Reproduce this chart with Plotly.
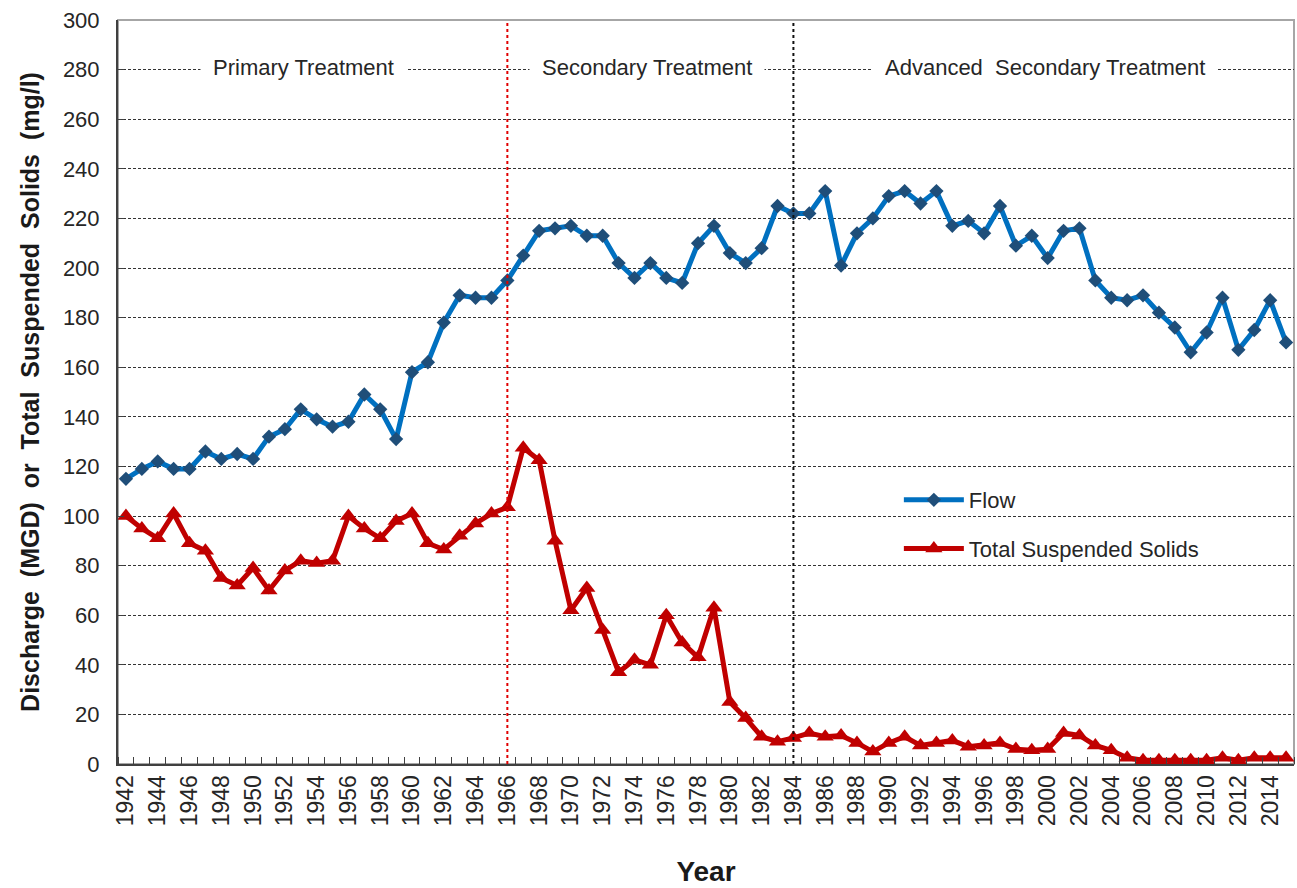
import plotly.graph_objects as go

# Annual values, 1942-2015
years = list(range(1942, 2016))

flow_mgd = [
    115, 119, 122, 119, 119, 126, 123, 125, 123, 132,   # 1942-1951
    135, 143, 139, 136, 138, 149, 143, 131, 158, 162,   # 1952-1961
    178, 189, 188, 188, 195, 205, 215, 216, 217, 213,   # 1962-1971
    213, 202, 196, 202, 196, 194, 210, 217, 206, 202,   # 1972-1981
    208, 225, 222, 222, 231, 201, 214, 220, 229, 231,   # 1982-1991
    226, 231, 217, 219, 214, 225, 209, 213, 204, 215,   # 1992-2001
    216, 195, 188, 187, 189, 182, 176, 166, 174, 188,   # 2002-2011
    167, 175, 187, 170,                                 # 2012-2015
]

tss_mgl = [
    100, 95, 91, 101, 89, 86, 75, 72, 79, 70,           # 1942-1951
    78, 82, 81, 82, 100, 95, 91, 98, 101, 89,           # 1952-1961
    86.5, 92, 97, 101, 103.5, 127.5, 122.5, 90, 62, 71, # 1962-1971
    54, 37, 42, 40, 60, 49, 43, 63, 25, 18.5,           # 1972-1981
    11, 9, 10.5, 12.5, 11, 11.5, 8.5, 5, 8.5, 11,       # 1982-1991
    7.5, 8.5, 9.5, 7, 7.5, 8.5, 6, 5.5, 6, 12.5,        # 1992-2001
    11.5, 7.5, 5.5, 2.5, 1.5, 1.5, 1.5, 1.5, 1.5, 2.5,  # 2002-2011
    1.5, 2.5, 2.5, 2.5,                                 # 2012-2015
]

# Treatment phases
treatment_changes = [1966, 1984]
change_colors = ["#e00000", "#111111"]
phase_labels = ["Primary Treatment", "Secondary Treatment",
                "Advanced\u00a0\u00a0Secondary Treatment"]
phase_label_x = [1953.2, 1974.8, 1999.8]
phase_label_y = 281

y_ticks = list(range(0, 301, 20))
x_label_years = list(range(1942, 2015, 2))

FONT = "Liberation Sans, Arial, sans-serif"
TEXT = "#262626"
GAP = "\u00a0\u00a0"

fig = go.Figure()

fig.add_trace(go.Scatter(
    x=years, y=flow_mgd, name="Flow", mode="lines+markers",
    line=dict(color="#0070C0", width=5),
    marker=dict(symbol="diamond", size=11, color="#1F4E79"),
    legendgroup="flow",
))
fig.add_trace(go.Scatter(
    x=years, y=tss_mgl, name="Total Suspended Solids", mode="lines+markers",
    line=dict(color="#C00000", width=5),
    marker=dict(symbol="triangle-up", size=15, color="#C00000"),
    legendgroup="tss",
))

shapes = []
# light frame on top and right
shapes.append(dict(type="rect", xref="paper", yref="paper", x0=0, x1=1, y0=0, y1=1,
                   line=dict(color="#a6a6a6", width=2), layer="below"))
# white backing behind the legend
shapes.append(dict(type="rect", xref="paper", yref="paper", x0=0.6335, x1=0.947,
                   y0=0.215, y1=0.3925, fillcolor="white", line=dict(width=0),
                   layer="between"))
for yr, col in zip(treatment_changes, change_colors):
    shapes.append(dict(type="line", xref="x", yref="paper", x0=yr, x1=yr, y0=0, y1=1,
                       line=dict(color=col, width=2, dash="dot"), layer="above"))

annotations = []
for txt, xv in zip(phase_labels, phase_label_x):
    annotations.append(dict(x=xv, y=phase_label_y, xref="x", yref="y", text=txt,
                            showarrow=False, bgcolor="white", borderpad=12,
                            font=dict(family=FONT, size=22, color=TEXT)))

fig.update_layout(
    width=1297, height=888,
    margin=dict(l=118, r=3, t=20, b=124),
    paper_bgcolor="white", plot_bgcolor="white",
    font=dict(family=FONT, size=22, color=TEXT),
    shapes=shapes, annotations=annotations,
    showlegend=True,
    legend=dict(x=0.664, y=0.383, xanchor="left", yanchor="top",
                bgcolor="rgba(0,0,0,0)", font=dict(family=FONT, size=22, color=TEXT),
                tracegroupgap=17, itemwidth=60),
)

fig.update_xaxes(
    range=[1941.5, 2015.5],
    tickmode="array", tickvals=x_label_years, ticktext=[str(v) for v in x_label_years],
    tickangle=-90, ticks="", showgrid=False, zeroline=False,
    showline=True, linecolor="#404040", linewidth=2,
    tickfont=dict(family=FONT, size=23, color=TEXT),
    minor=dict(tick0=1941.5, dtick=1, ticks="inside", ticklen=7,
               tickcolor="#404040", tickwidth=1, showgrid=False),
    title=dict(text="<b>Year</b>", font=dict(family=FONT, size=28, color="#1a1a1a"),
               standoff=36),
)

y_title = GAP.join(["Discharge", "(MGD)", "or", "Total", "Suspended", "Solids", "(mg/l)"])
fig.update_yaxes(
    range=[0, 300], tickmode="array", tickvals=y_ticks,
    ticks="inside", ticklen=6, tickcolor="#404040",
    showgrid=True, gridcolor="#333333", gridwidth=1, griddash="3px,2px",
    zeroline=False, showline=True, linecolor="#404040", linewidth=2,
    tickfont=dict(family=FONT, size=22, color=TEXT),
    ticklabelstandoff=12,
    title=dict(text="<b>" + y_title + "</b>",
               font=dict(family=FONT, size=25, color="#1a1a1a"), standoff=16),
)

fig.write_html("out.html")
